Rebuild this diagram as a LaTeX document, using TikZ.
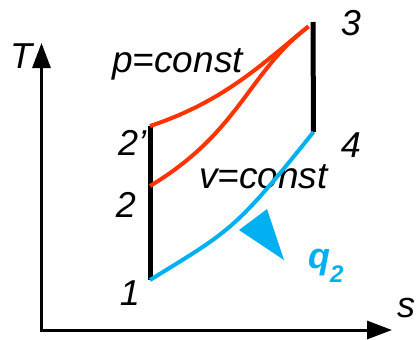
\documentclass[tikz,border=0pt]{standalone}
\usepackage{fontspec}
\setmainfont{Liberation Sans}
\usetikzlibrary{arrows.meta}
\definecolor{cred}{RGB}{255,51,0}
\definecolor{cblue}{RGB}{0,176,240}
\begin{document}
\begin{tikzpicture}[x=1pt,y=-1pt,
  lbl/.style={font=\fontsize{36}{36}\selectfont\itshape, inner sep=0pt, anchor=base},
  txt/.style={font=\fontsize{37}{37}\selectfont\itshape, inner sep=0pt, anchor=base west},
  axisline/.style={line width=3pt, -{Triangle[width=18pt,length=25pt]}},
  stroke/.style={line width=5pt},
  redc/.style={line width=4pt, cred},
  bluec/.style={line width=4pt, cblue}]
\useasboundingbox (0,0) rectangle (418,340);
% axes
\coordinate (O) at (41.5,330);
\coordinate (Ttip) at (41.5,43);
\coordinate (stip) at (392,330);
\draw[axisline] ([yshift=-1.5pt]O) -- (Ttip);
\draw[axisline] ([xshift=-1.5pt]O) -- (stip);
\node[lbl] (T) at (21,68) {T};
\node[lbl] (s) at (406,317) {s};
% labels
\node[lbl] (l1) at (130,305) {1};
\node[lbl] (l2) at (126,217) {2};
\node[txt, font=\fontsize{36}{36}\selectfont\itshape] (l2p) at (118,155) {2'};
\node[lbl] (l3) at (351,35) {3};
\node[lbl] (l4) at (351,157) {4};
\node[txt] (pc) at (112,72) {p=const};
\node[txt] (vc) at (199,188) {v=const};
\node[txt, text=cblue, font=\fontsize{36}{36}\selectfont\bfseries\itshape] (q2) at (308,268) {q\raisebox{-14pt}{\fontsize{24}{24}\selectfont 2}};
% state points
\coordinate (p1) at (150,280);
\coordinate (p2) at (150,186);
\coordinate (p2p) at (150,126);
\coordinate (p3) at (308.5,26.5);
\coordinate (p3b) at (313,22);
\coordinate (p4) at (313.5,132);
% black isentropes
\draw[stroke] (p2p) -- (p1);
\draw[stroke] (p3b) -- (p4);
% red curves
\draw[redc] (p2p) .. controls (225,101.25) and (263.5,62.5) .. (p3);
\draw[redc] (p2) .. controls (240,132) and (248.5,72) .. (p3);
% blue curve
\draw[bluec] (p1) .. controls (230,230.4) and (233.5,232) .. (p4);
% blue arrow
\fill[cblue] (239,230) coordinate (ta) -- (267,209) coordinate (tb) -- (284,260) coordinate (tc) -- cycle;
\end{tikzpicture}
\end{document}
